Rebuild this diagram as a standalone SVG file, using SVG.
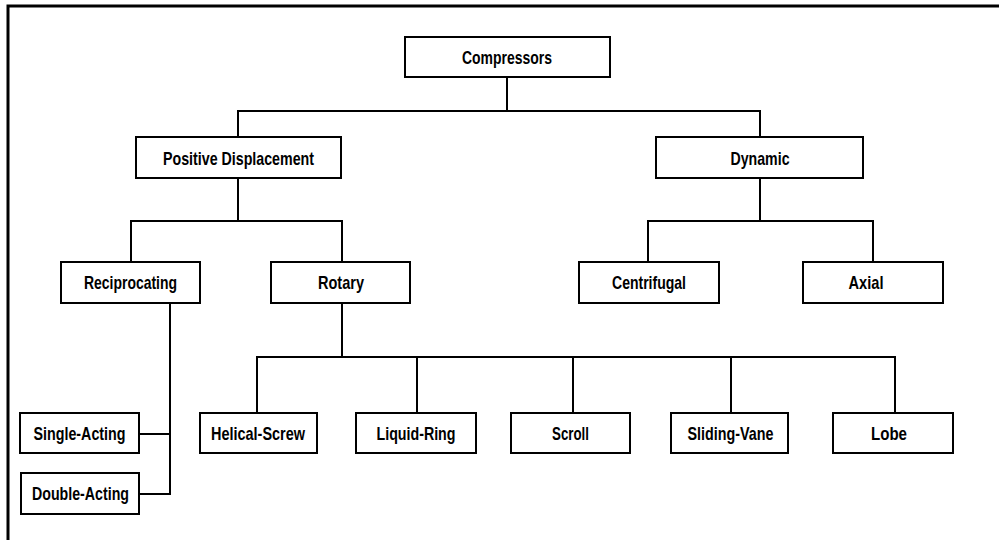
<svg xmlns="http://www.w3.org/2000/svg" width="999" height="540" viewBox="0 0 999 540">
<style>
.box{fill:#fff;stroke:#000;stroke-width:2}
.lbl{font-family:"Liberation Sans Narrow","Liberation Sans",Arial,sans-serif;font-size:19px;font-weight:bold;fill:#000;text-anchor:middle}
.con{fill:none;stroke:#000;stroke-width:2;stroke-linecap:square}
.frame{fill:none;stroke:#000;stroke-width:3}
</style>
<rect width="999" height="540" fill="#fff"/>
<path class="frame" d="M8,540 V6 H999"/>
<g id="connectors">
<path class="con" d="M507,77 V111 M238,111 H760 M238,111 V137 M760,111 V137"/>
<path class="con" d="M238,178 V221 M131,221 H342 M131,221 V262 M342,221 V262"/>
<path class="con" d="M760,178 V221 M648,221 H873 M648,221 V262 M873,221 V262"/>
<path class="con" d="M170,303 V494 M139,434 H170 M139,494 H170"/>
<path class="con" d="M342,303 V357 M257,357 H895 M257,357 V413 M417,357 V413 M573,357 V413 M731,357 V413 M895,357 V413"/>
</g>
<g id="compressors"><rect class="box" x="405" y="37" width="205" height="40"/><text class="lbl" x="507" y="63.5" textLength="90" lengthAdjust="spacingAndGlyphs">Compressors</text></g>
<g id="positive-displacement"><rect class="box" x="136" y="137" width="205" height="41"/><text class="lbl" x="238.5" y="164.5" textLength="151" lengthAdjust="spacingAndGlyphs">Positive Displacement</text></g>
<g id="dynamic"><rect class="box" x="656" y="137" width="207" height="41"/><text class="lbl" x="760" y="164.5" textLength="59" lengthAdjust="spacingAndGlyphs">Dynamic</text></g>
<g id="reciprocating"><rect class="box" x="61" y="262" width="139" height="41"/><text class="lbl" x="130.5" y="289" textLength="93" lengthAdjust="spacingAndGlyphs">Reciprocating</text></g>
<g id="rotary"><rect class="box" x="271" y="262" width="139" height="41"/><text class="lbl" x="341" y="289" textLength="46" lengthAdjust="spacingAndGlyphs">Rotary</text></g>
<g id="centrifugal"><rect class="box" x="579" y="262" width="140" height="41"/><text class="lbl" x="649" y="289" textLength="74" lengthAdjust="spacingAndGlyphs">Centrifugal</text></g>
<g id="axial"><rect class="box" x="803" y="262" width="140" height="41"/><text class="lbl" x="866" y="289" textLength="35" lengthAdjust="spacingAndGlyphs">Axial</text></g>
<g id="single-acting"><rect class="box" x="20" y="413" width="119" height="40"/><text class="lbl" x="79.5" y="439.5" textLength="92" lengthAdjust="spacingAndGlyphs">Single-Acting</text></g>
<g id="double-acting"><rect class="box" x="21" y="473" width="118" height="41"/><text class="lbl" x="80.5" y="500" textLength="97" lengthAdjust="spacingAndGlyphs">Double-Acting</text></g>
<g id="helical-screw"><rect class="box" x="200" y="413" width="117" height="40"/><text class="lbl" x="258" y="439.5" textLength="94" lengthAdjust="spacingAndGlyphs">Helical-Screw</text></g>
<g id="liquid-ring"><rect class="box" x="356" y="413" width="120" height="40"/><text class="lbl" x="416" y="439.5" textLength="79" lengthAdjust="spacingAndGlyphs">Liquid-Ring</text></g>
<g id="scroll"><rect class="box" x="511" y="413" width="119" height="40"/><text class="lbl" x="570.5" y="439.5" textLength="37" lengthAdjust="spacingAndGlyphs">Scroll</text></g>
<g id="sliding-vane"><rect class="box" x="671" y="413" width="117" height="40"/><text class="lbl" x="730.5" y="439.5" textLength="86" lengthAdjust="spacingAndGlyphs">Sliding-Vane</text></g>
<g id="lobe"><rect class="box" x="833" y="413" width="120" height="40"/><text class="lbl" x="889" y="439.5" textLength="36" lengthAdjust="spacingAndGlyphs">Lobe</text></g>
</svg>
